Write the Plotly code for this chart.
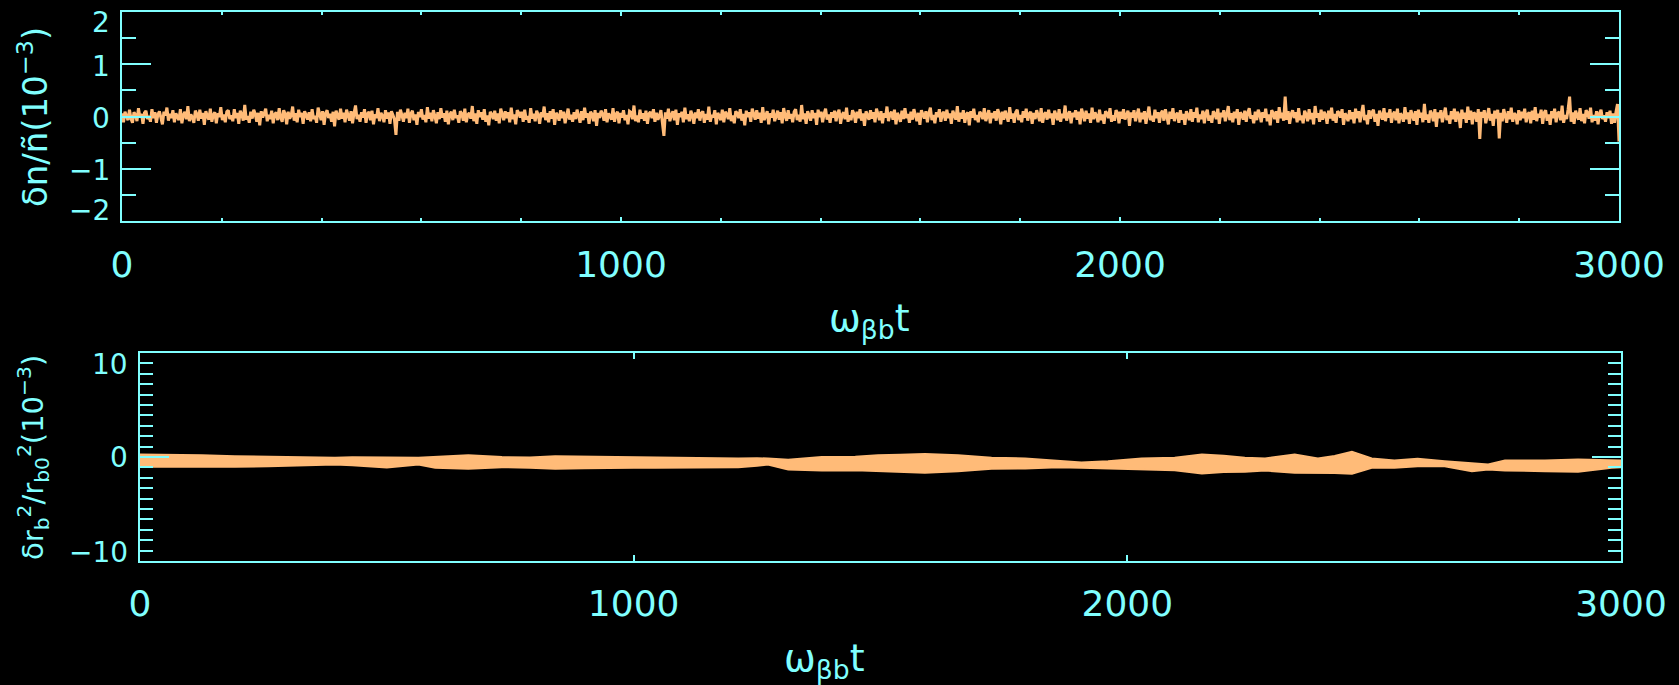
import plotly.graph_objects as go

# ---- data -------------------------------------------------------------
# upper panel: density perturbation delta n / n (units of 1e-3), sampled every 3 time units
t_step = 3
dn_vals = [
    0.06, -0.11, 0.09, 0.02, -0.07, 0.13, -0.04, -0.12, 0.08, 0.03, -0.09, 0.16, -0.02, 0.05, -0.14, 0.07, 0.11, -0.05, 0.01, -0.10, 0.14, -0.03, 0.08, -0.12, 0.04,
    0.10, -0.06, -0.15, 0.09, 0.02, 0.17, -0.08, 0.05, -0.03, 0.12, -0.11, 0.06, 0.00, -0.07, 0.14, -0.13, 0.03, 0.09, -0.05, 0.20, -0.09, 0.04, -0.02, -0.12, 0.11,
    0.05, -0.08, 0.13, -0.04, 0.07, -0.16, 0.10, 0.01, -0.06, 0.15, -0.10, 0.03, 0.08, -0.13, 0.06, -0.01, 0.18, -0.07, 0.04, -0.11, 0.09, 0.12, -0.05, 0.02, -0.09,
    0.14, -0.03, 0.07, -0.14, 0.11, 0.04, -0.08, 0.22, -0.06, 0.01, -0.12, 0.09, -0.04, 0.13, 0.05, -0.10, 0.07, -0.17, 0.10, -0.02, 0.06, 0.15, -0.09, 0.03, -0.05,
    0.11, -0.13, 0.04, 0.08, -0.07, 0.16, -0.02, -0.10, 0.12, 0.05, -0.15, 0.09, -0.04, 0.02, 0.19, -0.08, 0.06, -0.11, 0.13, -0.01, 0.07, -0.14, 0.10, 0.03, -0.06,
    0.08, -0.09, 0.14, -0.05, 0.01, -0.12, 0.17, 0.04, -0.07, 0.10, -0.16, 0.06, 0.12, -0.03, 0.05, -0.10, 0.09, -0.19, 0.11, 0.02, -0.06, 0.15, -0.04, 0.07, -0.11,
    0.13, 0.00, -0.08, 0.10, -0.13, 0.06, 0.21, -0.05, 0.03, -0.10, 0.08, -0.02, 0.14, -0.12, 0.05, 0.09, -0.07, 0.11, -0.15, 0.04, -0.03, 0.16, -0.09, 0.07, 0.01,
    -0.11, 0.12, -0.04, 0.08, -0.14, 0.10, 0.03, -0.06, -0.35, 0.09, -0.08, 0.13, 0.02, -0.10, 0.07, -0.03, 0.15, -0.12, 0.05, 0.11, -0.07, 0.04, -0.16, 0.09, -0.01,
    0.14, -0.06, 0.03, -0.11, 0.18, -0.04, 0.07, -0.09, 0.12, 0.01, -0.13, 0.08, -0.05, 0.16, -0.02, 0.06, -0.10, 0.11, -0.15, 0.04, 0.09, -0.07, 0.13, -0.03, 0.02,
    -0.12, 0.10, 0.05, -0.08, 0.15, -0.11, 0.03, 0.07, -0.04, 0.20, -0.09, 0.06, -0.14, 0.12, -0.01, 0.08, -0.06, 0.14, -0.10, 0.02, -0.17, 0.09, 0.04, -0.05, 0.11,
    -0.08, 0.06, -0.13, 0.15, 0.02, -0.07, 0.10, -0.03, 0.08, -0.11, 0.17, -0.05, 0.04, -0.15, 0.12, 0.07, -0.02, 0.09, -0.10, 0.13, -0.06, 0.01, -0.12, 0.16, -0.04,
    0.05, -0.09, 0.11, 0.03, -0.14, 0.08, -0.01, 0.19, -0.07, 0.06, -0.11, 0.10, -0.04, 0.14, -0.16, 0.07, 0.02, -0.08, 0.12, -0.03, 0.09, -0.13, 0.05, 0.15, -0.06,
    0.03, -0.10, 0.08, -0.05, 0.13, 0.01, -0.12, 0.10, -0.07, 0.17, -0.02, 0.06, -0.14, 0.09, 0.04, -0.09, 0.12, -0.18, 0.07, -0.03, 0.11, 0.05, -0.08, 0.14, -0.11,
    0.06, 0.00, -0.06, 0.16, -0.10, 0.04, 0.09, -0.13, 0.07, -0.02, 0.12, -0.07, 0.03, -0.15, 0.10, 0.08, -0.05, 0.21, -0.09, 0.02, -0.11, 0.13, -0.04, 0.06, -0.08,
    0.11, -0.14, 0.05, 0.09, -0.03, 0.14, -0.10, 0.07, -0.06, 0.01, 0.12, -0.12, -0.37, 0.08, -0.04, 0.15, -0.09, 0.03, 0.10, -0.07, 0.13, -0.16, 0.06, -0.01, 0.09,
    -0.11, 0.17, -0.05, 0.04, -0.09, 0.11, 0.02, -0.14, 0.08, -0.03, 0.14, -0.08, 0.06, 0.10, -0.12, 0.05, -0.06, 0.19, -0.10, 0.03, -0.02, 0.12, -0.15, 0.07, 0.01,
    -0.07, 0.13, -0.11, 0.09, 0.04, -0.05, 0.16, -0.09, 0.02, -0.13, 0.10, 0.06, -0.03, 0.14, -0.08, 0.05, -0.17, 0.11, -0.01, 0.08, -0.10, 0.15, 0.03, -0.06, 0.12,
    -0.04, 0.07, -0.12, 0.18, -0.07, 0.02, 0.10, -0.15, 0.06, -0.02, 0.13, -0.09, 0.04, 0.11, -0.06, 0.08, -0.13, 0.16, 0.01, -0.08, 0.12, -0.04, 0.05, -0.11, 0.09,
    0.14, -0.07, 0.03, -0.10, 0.22, -0.05, 0.06, -0.14, 0.10, 0.02, -0.08, 0.12, -0.03, 0.07, -0.16, 0.13, -0.01, 0.09, -0.11, 0.05, 0.15, -0.06, 0.04, -0.12, 0.08,
    -0.02, 0.11, -0.09, 0.06, 0.13, -0.14, 0.03, 0.08, -0.05, 0.17, -0.10, 0.02, -0.07, 0.12, 0.05, -0.12, 0.09, -0.03, 0.14, -0.08, 0.06, -0.18, 0.10, 0.01, -0.06,
    0.12, -0.04, 0.08, -0.11, 0.15, 0.03, -0.07, 0.10, -0.13, 0.06, -0.02, 0.19, -0.09, 0.04, 0.09, -0.06, 0.13, -0.15, 0.07, 0.00, -0.10, 0.11, -0.05, 0.16, -0.03,
    0.05, -0.12, 0.09, -0.06, 0.14, 0.02, -0.09, 0.07, -0.16, 0.12, 0.04, -0.04, 0.10, -0.11, 0.06, 0.17, -0.07, 0.03, -0.13, 0.08, -0.01, 0.14, -0.10, 0.05, 0.09,
    -0.08, 0.13, -0.03, 0.06, -0.14, 0.11, 0.02, -0.06, 0.20, -0.10, 0.07, -0.04, 0.12, -0.12, 0.04, 0.08, -0.17, 0.10, -0.02, 0.15, -0.07, 0.03, -0.11, 0.09, 0.05,
    -0.05, 0.16, -0.09, 0.01, 0.12, -0.13, 0.07, -0.03, 0.10, -0.08, 0.14, 0.04, -0.15, 0.09, -0.06, 0.11, 0.02, -0.10, 0.18, -0.04, 0.06, -0.12, 0.08, 0.13, -0.07,
    0.03, -0.11, 0.10, -0.02, 0.15, -0.08, 0.05, 0.09, -0.14, 0.07, -0.05, 0.12, 0.01, -0.09, 0.16, -0.12, 0.04, 0.08, -0.06, 0.13, -0.03, 0.06, -0.16, 0.11, 0.02,
    -0.07, 0.14, -0.10, 0.05, -0.03, 0.21, -0.08, 0.03, 0.10, -0.13, 0.07, -0.01, 0.12, -0.06, 0.09, -0.15, 0.15, 0.04, -0.09, 0.11, -0.04, 0.06, -0.12, 0.17, -0.05,
    0.08, 0.01, -0.11, 0.13, -0.07, 0.04, -0.14, 0.10, 0.06, -0.03, 0.16, -0.10, 0.02, -0.08, 0.12, 0.07, -0.13, 0.09, -0.04, 0.14, -0.06, 0.03, 0.11, -0.18, 0.08,
    -0.02, 0.12, -0.09, 0.05, 0.15, -0.11, 0.07, -0.05, 0.10, -0.14, 0.04, 0.19, -0.07, 0.01, -0.10, 0.13, -0.03, 0.08, -0.12, 0.06, 0.11, -0.08, 0.14, -0.01, -0.15,
    0.09, -0.04, 0.16, -0.09, 0.03, 0.07, -0.12, 0.12, -0.06, 0.05, -0.16, 0.10, 0.02, -0.07, 0.14, -0.10, 0.08, -0.02, 0.17, -0.11, 0.04, -0.05, 0.11, -0.13, 0.06,
    0.13, -0.08, 0.02, -0.12, 0.10, 0.05, -0.05, 0.15, -0.14, 0.07, -0.01, 0.12, -0.09, 0.04, 0.20, -0.07, 0.06, -0.11, 0.09, -0.03, 0.14, -0.16, 0.08, 0.03, -0.06,
    0.11, -0.10, 0.07, 0.16, -0.04, 0.02, -0.13, 0.09, -0.07, 0.13, 0.05, -0.11, 0.08, -0.02, 0.15, -0.09, 0.04, -0.17, 0.12, 0.06, -0.05, 0.10, -0.12, 0.18, -0.03,
    0.07, -0.08, 0.38, -0.06, 0.10, -0.14, 0.05, 0.12, -0.03, 0.08, -0.11, 0.16, -0.07, 0.02, -0.13, 0.11, 0.04, -0.09, 0.14, -0.05, 0.07, -0.15, 0.20, -0.02, 0.06,
    -0.10, 0.13, -0.06, 0.09, 0.03, -0.14, 0.11, -0.04, 0.17, -0.08, 0.05, -0.12, 0.10, 0.07, -0.02, 0.14, -0.16, 0.06, 0.01, -0.09, 0.12, -0.05, 0.08, -0.13, 0.15,
    -0.03, 0.10, -0.11, 0.06, 0.22, -0.07, 0.03, -0.15, 0.12, -0.04, 0.08, 0.13, -0.10, 0.05, -0.18, 0.11, 0.02, -0.06, 0.16, -0.09, 0.07, -0.02, 0.14, -0.12, 0.04,
    0.09, -0.07, 0.15, -0.13, 0.06, 0.01, -0.10, 0.18, -0.05, 0.08, -0.14, 0.12, 0.03, -0.08, 0.10, -0.16, 0.13, -0.02, 0.07, -0.11, 0.24, -0.06, 0.04, -0.12, 0.11,
    0.05, -0.09, 0.14, -0.20, 0.08, -0.03, 0.12, -0.11, 0.06, 0.17, -0.07, 0.02, -0.14, 0.10, -0.05, 0.15, -0.10, 0.09, 0.03, -0.22, 0.13, -0.04, 0.07, -0.12, 0.19,
    -0.06, 0.11, -0.15, 0.08, 0.04, -0.10, 0.14, -0.43, 0.09, -0.02, 0.12, -0.13, 0.06, 0.16, -0.08, 0.05, -0.18, 0.11, -0.04, 0.13, -0.42, 0.07, -0.09, 0.14, 0.02,
    -0.12, 0.10, -0.05, 0.17, -0.10, 0.06, 0.03, -0.15, 0.12, -0.07, 0.09, -0.03, 0.15, -0.11, 0.04, 0.08, -0.13, 0.11, -0.06, 0.18, -0.09, 0.05, -0.02, 0.13, -0.14,
    0.07, 0.12, -0.08, 0.04, -0.16, 0.10, -0.03, 0.15, -0.11, 0.06, 0.09, -0.07, 0.21, -0.12, 0.03, -0.05, 0.14, 0.38, -0.10, 0.08, -0.14, 0.11, 0.02, -0.06, 0.16,
    -0.09, 0.05, -0.13, 0.12, 0.07, -0.04, 0.17, -0.11, 0.03, -0.08, 0.10, -0.15, 0.06, 0.13, -0.05, 0.02, -0.10, 0.08, -0.03, 0.11, -0.14, 0.06, -0.12, 0.09, 0.24,
    -0.48,
]
dn_time = [i * t_step for i in range(len(dn_vals))]

# lower panel: envelope of the fast-oscillating beam radius perturbation (units of 1e-3)
rb_time = [0, 60, 125, 192, 260, 328, 395, 430, 463, 500, 564, 598, 665, 733, 790, 841, 900, 942, 1000, 1043,
           1100, 1144, 1212, 1250, 1272, 1313, 1381, 1449, 1495, 1540, 1590, 1657, 1725, 1793, 1860, 1907, 1961, 2029, 2096, 2151,
           2195, 2238, 2279, 2339, 2386, 2420, 2455, 2495, 2541, 2588, 2643, 2698, 2731, 2765, 2846, 2913, 2981, 3000]
rb_upper = [0.24, 0.22, 0.18, 0.08, 0.02, 0.0, -0.08, -0.02, 0.0, -0.04, -0.08, 0.02, 0.18, 0.0, -0.06, 0.08, 0.04, 0.0, -0.04, -0.08,
            -0.06, -0.08, -0.14, -0.12, -0.14, -0.27, 0.0, 0.02, 0.18, 0.22, 0.30, 0.18, -0.08, -0.14, -0.40, -0.53, -0.40, -0.14, -0.08, 0.24,
            0.12, -0.08, -0.14, 0.24, -0.14, 0.10, 0.50, -0.14, -0.33, -0.17, -0.40, -0.56, -0.72, -0.33, -0.33, -0.24, -0.33, -0.33]
rb_lower = [-0.94, -0.96, -0.98, -0.94, -0.88, -0.78, -0.72, -0.80, -0.88, -1.02, -0.72, -1.04, -1.14, -0.98, -1.04, -1.14, -1.08, -1.04, -1.04, -1.04,
            -1.02, -1.04, -0.98, -0.85, -0.72, -1.20, -1.30, -1.27, -1.36, -1.45, -1.52, -1.36, -1.14, -1.10, -0.98, -1.04, -1.10, -1.20, -1.27, -1.59,
            -1.45, -1.43, -1.30, -1.52, -1.52, -1.55, -1.62, -1.04, -1.04, -0.88, -0.88, -1.36, -1.20, -1.30, -1.36, -1.43, -1.04, -0.98]

x_tick_vals = [0, 1000, 2000, 3000]
x_tick_text = ["0", "1000", "2000", "3000"]
top_ytick_vals = [-2, -1, 0, 1, 2]
top_ytick_text = ["\u22122", "\u22121", "0", "1", "2"]
bot_ytick_vals = [-10, 0, 10]
bot_ytick_text = ["\u221210", "0", "10"]

# ---- styling ----------------------------------------------------------
CYAN = "#80FFFF"
ORANGE = "#FFBB78"
FONT = "DejaVu Sans"
W, H = 1679, 685

fig = go.Figure()

fig.add_trace(go.Scatter(x=dn_time, y=dn_vals, mode="lines",
                         line=dict(color=ORANGE, width=3), xaxis="x", yaxis="y",
                         showlegend=False, hoverinfo="skip"))

fig.add_trace(go.Scatter(x=rb_time, y=rb_upper, mode="lines",
                         line=dict(color=ORANGE, width=2), xaxis="x2", yaxis="y2",
                         showlegend=False, hoverinfo="skip"))
fig.add_trace(go.Scatter(x=rb_time, y=rb_lower, mode="lines", fill="tonexty",
                         fillcolor=ORANGE, line=dict(color=ORANGE, width=2),
                         xaxis="x2", yaxis="y2", showlegend=False, hoverinfo="skip"))

frame = dict(showline=True, linecolor=CYAN, linewidth=2, mirror="allticks",
             showgrid=False, zeroline=False, ticks="inside", tickcolor=CYAN,
             tickwidth=2, automargin=False)

fig.update_layout(
    width=W, height=H, autosize=False,
    margin=dict(l=0, r=0, t=0, b=0, pad=0),
    paper_bgcolor="black", plot_bgcolor="black",
    font=dict(family=FONT, color=CYAN),
    xaxis=dict(frame, domain=[122 / W, 1619 / W], anchor="y", range=[0, 3000],
               tickvals=x_tick_vals, ticktext=x_tick_text, ticklen=4,
               minor=dict(dtick=200, ticklen=3, tickcolor=CYAN, tickwidth=2, ticks="inside"),
               tickfont=dict(size=36, family=FONT, color=CYAN), ticklabelstandoff=11),
    yaxis=dict(frame, domain=[1 - 221 / H, 1 - 12 / H], anchor="x", range=[-2, 2],
               tickvals=top_ytick_vals, ticklen=29, showticklabels=False,
               minor=dict(dtick=0.5, ticklen=14, tickcolor=CYAN, tickwidth=2, ticks="inside")),
    xaxis2=dict(frame, domain=[140 / W, 1621 / W], anchor="y2", range=[0, 3000],
                tickvals=x_tick_vals, ticktext=x_tick_text, ticklen=6,
                tickfont=dict(size=36, family=FONT, color=CYAN), ticklabelstandoff=10),
    yaxis2=dict(frame, domain=[1 - 561 / H, 1 - 353 / H], anchor="x2", range=[-10, 10],
                tickvals=bot_ytick_vals, ticklen=29, showticklabels=False,
                minor=dict(dtick=1, ticklen=13, tickcolor=CYAN, tickwidth=2, ticks="inside")),
)

annotations = []
# y tick labels (end labels sit just inside the frame)
for i, (v, txt) in enumerate(zip(top_ytick_vals, top_ytick_text)):
    shift = -2
    if i == 0:
        shift = 10
    elif i == len(top_ytick_vals) - 1:
        shift = -11
    annotations.append(dict(x=0, xref="x domain", y=v, yref="y", text=txt,
                            xanchor="right", yanchor="middle", xshift=-10, yshift=shift,
                            showarrow=False, font=dict(size=28, family=FONT, color=CYAN)))
for i, (v, txt) in enumerate(zip(bot_ytick_vals, bot_ytick_text)):
    shift = -1
    if i == 0:
        shift = 9
    elif i == len(bot_ytick_vals) - 1:
        shift = -12
    annotations.append(dict(x=0, xref="x2 domain", y=v, yref="y2", text=txt,
                            xanchor="right", yanchor="middle", xshift=-10, yshift=shift,
                            showarrow=False, font=dict(size=28, family=FONT, color=CYAN)))

# axis titles
xtitle = "\u03c9<sub>\u03b2b</sub>t"
annotations.append(dict(x=0.518, y=1 - 320 / H, xref="paper", yref="paper", text=xtitle,
                        xanchor="center", yanchor="middle", showarrow=False,
                        font=dict(size=38, family=FONT, color=CYAN)))
annotations.append(dict(x=0.491, y=1 - 660 / H, xref="paper", yref="paper", text=xtitle,
                        xanchor="center", yanchor="middle", showarrow=False,
                        font=dict(size=38, family=FONT, color=CYAN)))
annotations.append(dict(x=33 / W, y=1 - 117 / H, xref="paper", yref="paper",
                        text="\u03b4n/\u00f1(10<sup>\u22123</sup>)", textangle=-90,
                        xanchor="center", yanchor="middle", showarrow=False,
                        font=dict(size=34, family=FONT, color=CYAN)))
annotations.append(dict(x=33 / W, y=1 - 458 / H, xref="paper", yref="paper",
                        text="\u03b4r<sub>b</sub><sup>2</sup>/r<sub>b0</sub><sup>2</sup>(10<sup>\u22123</sup>)",
                        textangle=-90, xanchor="center", yanchor="middle", showarrow=False,
                        font=dict(size=29, family=FONT, color=CYAN)))

fig.update_layout(annotations=annotations)

fig.write_html("out.html")
